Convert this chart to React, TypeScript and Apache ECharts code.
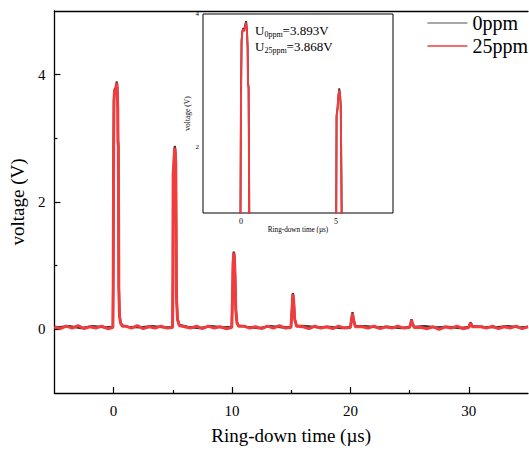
import React, { useEffect, useRef } from "react";
import * as echarts from "echarts";

const FONT = "Liberation Serif";

// x tick / label values
const mainXLabels = [0, 10, 20, 30];
const mainXMinor = [5, 15, 25];
const mainYLabels = [0, 2, 4];
const mainYMinor = [1, 3];
const insetXLabels = [0, 5];
const insetXTicks = [0, 2.5, 5, 7.5];
const insetYLabels = [2, 4];
const insetYTicks = [2, 3, 4];

const seriesNames = ["0ppm", "25ppm"];
const annotations = [
  { sub: "0ppm", value: "=3.893V" },
  { sub: "25ppm", value: "=3.868V" },
];

// baseline readings (time µs, voltage V)
const base25ppm = [
  [-5, 0.04], [-4.5, 0.01], [-4, 0.05], [-3.5, 0.02], [-3, 0.06], [-2.5, 0.01], [-2, 0.04], [-1.5, 0.02], [-1, 0.05], [-0.5, 0.01],
  [1, 0.05], [1.5, 0.02], [2, 0.06], [2.5, 0.01], [3, 0.04], [3.5, 0.02], [4, 0.05], [4.5, 0.02],
  [6, 0.04], [6.5, 0.02], [7, 0.05], [7.5, 0.01], [8, 0.05], [8.5, 0.02], [9, 0.04], [9.5, 0.01],
  [11, 0.05], [11.5, 0.02], [12, 0.04], [12.5, 0.01], [13, 0.05], [13.5, 0.02], [14, 0.06], [14.5, 0.02],
  [16, 0.04], [16.5, 0.01], [17, 0.05], [17.5, 0.02], [18, 0.04], [18.5, 0.01], [19, 0.05], [19.5, 0.02],
  [21, 0.04], [21.5, 0.02], [22, 0.05], [22.5, 0.01], [23, 0.04], [23.5, 0.02], [24, 0.05], [24.5, 0.02],
  [26, 0.03], [26.5, 0.01], [27, 0.04], [27.5, 0.0], [28, 0.04], [28.5, 0.02], [29, 0.05], [29.5, 0.01],
  [31, 0.04], [31.5, 0.02], [32, 0.05], [32.5, 0.01], [33, 0.04], [33.5, 0.02], [34, 0.05], [34.5, 0.01], [35, 0.04],
];

const base0ppm = [
  [-5, 0.03], [-4.75, 0.03], [-3.75, 0.05], [-2.75, 0.02], [-1.75, 0.05], [-0.75, 0.03],
  [1.25, 0.04], [2.25, 0.03], [3.25, 0.05], [4.25, 0.03],
  [6.25, 0.04], [7.25, 0.02], [8.25, 0.05], [9.25, 0.03],
  [11.25, 0.04], [12.25, 0.02], [13.25, 0.05], [14.25, 0.03],
  [16.25, 0.05], [17.25, 0.03], [18.25, 0.04], [19.25, 0.02],
  [21.25, 0.05], [22.25, 0.03], [23.25, 0.04], [24.25, 0.02],
  [26.25, 0.05], [27.25, 0.03], [28.25, 0.04], [29.25, 0.02],
  [31.25, 0.04], [32.25, 0.03], [33.25, 0.05], [34.25, 0.03], [35, 0.04],
];

// ring-down pulses (time µs, voltage V)
const pulses0ppm = [
  [-0.06, 0.04], [-0.03, 0.9], [0, 2.8], [0.03, 3.6], [0.07, 3.74], [0.12, 3.79], [0.17, 3.76], [0.21, 3.83], [0.25, 3.87], [0.27, 3.893], [0.31, 3.78], [0.35, 3.5], [0.37, 2.97], [0.4, 2.9], [0.42, 1.9], [0.44, 0.7], [0.5, 0.22], [0.6, 0.1], [0.75, 0.06],
  [4.98, 0.04], [5.01, 0.9], [5.03, 2.47], [5.08, 2.58], [5.12, 2.76], [5.17, 2.88], [5.21, 2.8], [5.25, 2.62], [5.28, 1.7], [5.31, 0.55], [5.4, 0.16], [5.55, 0.07],
  [9.98, 0.04], [10.04, 0.5], [10.09, 1.05], [10.15, 1.22], [10.2, 1.16], [10.26, 0.85], [10.32, 0.32], [10.42, 0.11], [10.55, 0.06],
  [14.98, 0.04], [15.06, 0.3], [15.14, 0.57], [15.21, 0.47], [15.29, 0.17], [15.45, 0.06],
  [20.0, 0.04], [20.1, 0.17], [20.18, 0.27], [20.27, 0.15], [20.42, 0.05],
  [25.0, 0.04], [25.1, 0.1], [25.16, 0.16], [25.25, 0.09], [25.4, 0.04],
  [30.0, 0.04], [30.14, 0.11], [30.3, 0.05],
];

const pulses25ppm = [
  [-0.06, 0.03], [-0.03, 0.8], [0, 2.7], [0.03, 3.58], [0.07, 3.72], [0.12, 3.77], [0.17, 3.74], [0.21, 3.8], [0.25, 3.85], [0.27, 3.868], [0.31, 3.76], [0.35, 3.48], [0.37, 2.95], [0.4, 2.88], [0.42, 1.85], [0.44, 0.65], [0.5, 0.2], [0.6, 0.09], [0.75, 0.05],
  [4.98, 0.03], [5.01, 0.85], [5.03, 2.45], [5.08, 2.56], [5.12, 2.74], [5.17, 2.85], [5.21, 2.78], [5.25, 2.6], [5.28, 1.65], [5.31, 0.5], [5.4, 0.15], [5.55, 0.06],
  [9.98, 0.03], [10.04, 0.48], [10.09, 1.03], [10.15, 1.2], [10.2, 1.14], [10.26, 0.83], [10.32, 0.3], [10.42, 0.1], [10.55, 0.05],
  [14.98, 0.03], [15.06, 0.28], [15.14, 0.55], [15.21, 0.45], [15.29, 0.16], [15.45, 0.05],
  [20.0, 0.03], [20.1, 0.16], [20.18, 0.25], [20.27, 0.14], [20.42, 0.04],
  [25.0, 0.03], [25.1, 0.09], [25.16, 0.15], [25.25, 0.08], [25.4, 0.03],
  [30.0, 0.03], [30.14, 0.1], [30.3, 0.04],
];

const merge = (a: number[][], b: number[][]) => [...a, ...b].sort((p, q) => p[0] - q[0]);

export default function App() {
  const ref = useRef<HTMLDivElement>(null);
  useEffect(() => {
    if (!ref.current) return;
    const chart = echarts.init(ref.current, undefined, { renderer: "svg" });
    const data0 = merge(base0ppm, pulses0ppm);
    const data25 = merge(base25ppm, pulses25ppm);
    const axisLine = { show: true, onZero: false, lineStyle: { color: "#000", width: 1.3 } };
    const noLine = { show: false, onZero: false };
    const black = "#333333";
    const red = "#f03c3c";
    const clear = { color: "rgba(0,0,0,0)", borderWidth: 0, opacity: 0 };

    chart.setOption({
      animation: false,
      backgroundColor: "#fff",
      textStyle: { fontFamily: FONT },
      grid: [
        { left: 54, right: 1, top: 11, bottom: 57 },
        {
          left: 203, top: 14, width: 190, height: 199, show: true,
          borderColor: "#000", borderWidth: 1, backgroundColor: "#fff", z: 5,
        },
      ],
      legend: {
        orient: "vertical", right: 1, top: 13, align: "left",
        itemWidth: 40, itemHeight: 20, itemGap: 3, padding: 0,
        textStyle: { fontFamily: FONT, fontSize: 20, color: "#000" },
        itemStyle: clear,
        data: [
          { name: seriesNames[0], lineStyle: { color: "#8a8a8a", width: 1.5 }, itemStyle: clear },
          { name: seriesNames[1], lineStyle: { color: red, width: 1.5 }, itemStyle: clear },
        ],
      },
      xAxis: [
        {
          gridIndex: 0, type: "value", min: -5, max: 35, position: "bottom",
          axisLine, splitLine: { show: false },
          axisTick: { show: true, inside: true, length: 6, customValues: mainXLabels, lineStyle: { color: "#000", width: 1.2 } },
          axisLabel: { customValues: mainXLabels, fontFamily: FONT, fontSize: 15, color: "#000", margin: 10 },
          name: "Ring-down time (µs)", nameLocation: "middle", nameGap: 33,
          nameTextStyle: { fontFamily: FONT, fontSize: 19, color: "#000" },
        },
        {
          gridIndex: 0, type: "value", min: -5, max: 35, position: "bottom",
          axisLine: noLine, splitLine: { show: false },
          axisTick: { show: true, inside: true, length: 3, customValues: mainXMinor, lineStyle: { color: "#000", width: 1.2 } },
          axisLabel: { show: false },
        },
        {
          gridIndex: 0, type: "value", min: -5, max: 35, position: "top",
          axisLine, splitLine: { show: false }, axisTick: { show: false }, axisLabel: { show: false },
        },
        {
          gridIndex: 1, type: "value", min: -2, max: 8, position: "bottom",
          axisLine: noLine, splitLine: { show: false },
          axisTick: { show: true, inside: true, length: 3, customValues: insetXTicks, lineStyle: { color: "#000", width: 0.8 } },
          axisLabel: { customValues: insetXLabels, fontFamily: FONT, fontSize: 8, color: "#000", margin: 4 },
          name: "Ring-down time (µs)", nameLocation: "middle", nameGap: 13,
          nameTextStyle: { fontFamily: FONT, fontSize: 7.2, color: "#000" },
        },
      ],
      yAxis: [
        {
          gridIndex: 0, type: "value", min: -1, max: 5, position: "left",
          axisLine, splitLine: { show: false },
          axisTick: { show: true, inside: true, length: 6, customValues: mainYLabels, lineStyle: { color: "#000", width: 1.2 } },
          axisLabel: { customValues: mainYLabels, fontFamily: FONT, fontSize: 15, color: "#000", margin: 9 },
          name: "voltage (V)", nameLocation: "middle", nameGap: 19,
          nameTextStyle: { fontFamily: FONT, fontSize: 19, color: "#000" },
        },
        {
          gridIndex: 0, type: "value", min: -1, max: 5, position: "left",
          axisLine: noLine, splitLine: { show: false },
          axisTick: { show: true, inside: true, length: 3, customValues: mainYMinor, lineStyle: { color: "#000", width: 1.2 } },
          axisLabel: { show: false },
        },
        {
          gridIndex: 1, type: "value", min: 1, max: 4, position: "left",
          axisLine: noLine, splitLine: { show: false },
          axisTick: { show: true, inside: true, length: 3, customValues: insetYTicks, lineStyle: { color: "#000", width: 0.8 } },
          axisLabel: { customValues: insetYLabels, fontFamily: FONT, fontSize: 7, color: "#000", margin: 4 },
          name: "voltage (V)", nameLocation: "middle", nameGap: 10,
          nameTextStyle: { fontFamily: FONT, fontSize: 7.5, color: "#000" },
        },
      ],
      series: [
        {
          name: seriesNames[0], type: "line", xAxisIndex: 0, yAxisIndex: 0, data: data0,
          symbol: "none", lineStyle: { color: black, width: 2.2 }, itemStyle: { color: black }, z: 2,
        },
        {
          name: seriesNames[1], type: "line", xAxisIndex: 0, yAxisIndex: 0, data: data25,
          symbol: "none", lineStyle: { color: red, width: 3 }, itemStyle: { color: red }, z: 3,
        },
        {
          name: seriesNames[0], type: "line", xAxisIndex: 3, yAxisIndex: 2, data: data0,
          symbol: "none", lineStyle: { color: black, width: 1.8 }, itemStyle: { color: black }, z: 6, clip: true,
        },
        {
          name: seriesNames[1], type: "line", xAxisIndex: 3, yAxisIndex: 2, data: data25,
          symbol: "none", lineStyle: { color: red, width: 2 }, itemStyle: { color: red }, z: 7, clip: true,
        },
      ],
      graphic: annotations.map((a, i) => ({
        type: "text",
        x: 255,
        y: 30 + i * 16.5,
        z: 100,
        style: {
          text: `{m|U}{s|${a.sub}}{m|${a.value}}`,
          verticalAlign: "middle",
          fill: "#000",
          rich: {
            m: { fontFamily: FONT, fontSize: 13, lineHeight: 16, fill: "#000", color: "#000" },
            s: { fontFamily: FONT, fontSize: 8, lineHeight: 8, verticalAlign: "bottom", fill: "#000", color: "#000" },
          },
        },
      })),
    });
    return () => chart.dispose();
  }, []);
  return <div ref={ref} style={{ width: 529, height: 450, position: "absolute", left: 0, top: 0 }} />;
}
